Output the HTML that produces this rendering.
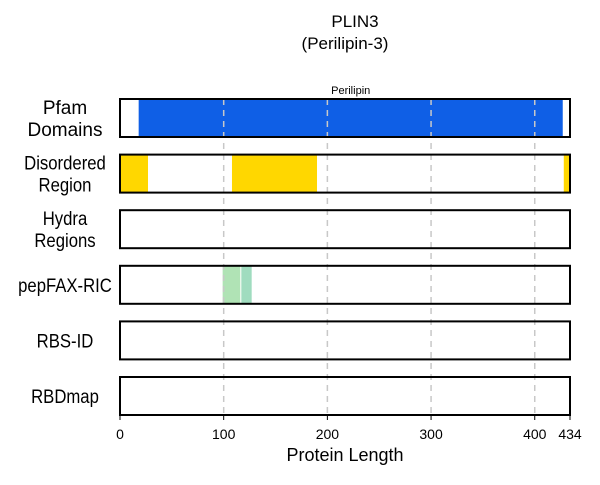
<!DOCTYPE html>
<html><head><meta charset="utf-8"><style>
body{margin:0;background:#fff;font-family:"Liberation Sans",sans-serif}
</style></head><body>
<svg id="c" width="600" height="480" xmlns="http://www.w3.org/2000/svg">
<text x="355" y="27" text-anchor="middle" font-size="17">PLIN3</text>
<text x="345" y="49" text-anchor="middle" font-size="17">(Perilipin-3)</text>
<text x="345" y="461" text-anchor="middle" font-size="18">Protein Length</text>
<g id="g"></g>
</svg>
<script>
const tracks=["Pfam Domains","Disordered Region","Hydra Regions","pepFAX-RIC","RBS-ID","RBDmap"];
const trackLabels=[["Pfam","Domains"],["Disordered","Region"],["Hydra","Regions"],["pepFAX-RIC"],["RBS-ID"],["RBDmap"]];
const segTrack=[0,1,1,1,3,3];
const segStart=[18,0,108,428,99,117];
const segEnd=[427,27,190,434,116,127];
const segColor=["#0f5fe6","#ffd700","#ffd700","#ffd700","#b0e3b5","#a0dcbf"];
const ticks=[0,100,200,300,400,434];
const proteinLength=434;
const NS="http://www.w3.org/2000/svg";
const g=document.getElementById('g');
const x0=120,x1=570;
const xs=v=>x0+(v/proteinLength)*(x1-x0);
const trackTop=i=>99+i*55.6;
const th=38;
function el(t,a){const e=document.createElementNS(NS,t);for(const k in a)e.setAttribute(k,a[k]);g.appendChild(e);return e;}
segStart.forEach((s,i)=>{
 const r=el('rect',{x:xs(s),y:trackTop(segTrack[i]),width:xs(segEnd[i])-xs(s),height:th,fill:segColor[i]});
 
 
});
ticks.slice(1,5).forEach(t=>{
 const l=el('line',{x1:xs(t),x2:xs(t),y1:99,y2:trackTop(5)+th,stroke:'#c8c8c8','stroke-width':1.5,'stroke-dasharray':'6,5'});
 
 
});
tracks.forEach((t,i)=>{
 const r=el('rect',{x:x0,y:trackTop(i),width:x1-x0,height:th,fill:'none',stroke:'#000','stroke-width':2});
 
 
 const lines=trackLabels[i];
 const cy=trackTop(i)+th/2;
 const fs=i==0?19:19;
 const sc=i==0?1:0.88;
 lines.forEach((ln,j)=>{
  const tx=el('text',{x:65/sc,y:cy+7+(j-(lines.length-1)/2)*22,'text-anchor':'middle','font-size':fs,transform:'scale('+sc+',1)'});
  tx.textContent=ln;
  
  
 });
});
const pl=el('text',{x:(xs(18)+xs(427))/2,y:94,'text-anchor':'middle','font-size':11});
pl.textContent='Perilipin';


ticks.forEach(t=>{
 const l=el('line',{x1:xs(t),x2:xs(t),y1:415,y2:420,stroke:'#000','stroke-width':1});
 
 
 const tx=el('text',{x:xs(t),y:439,'text-anchor':'middle','font-size':14});
 tx.textContent=t;
 
 
});
</script>
</body></html>
